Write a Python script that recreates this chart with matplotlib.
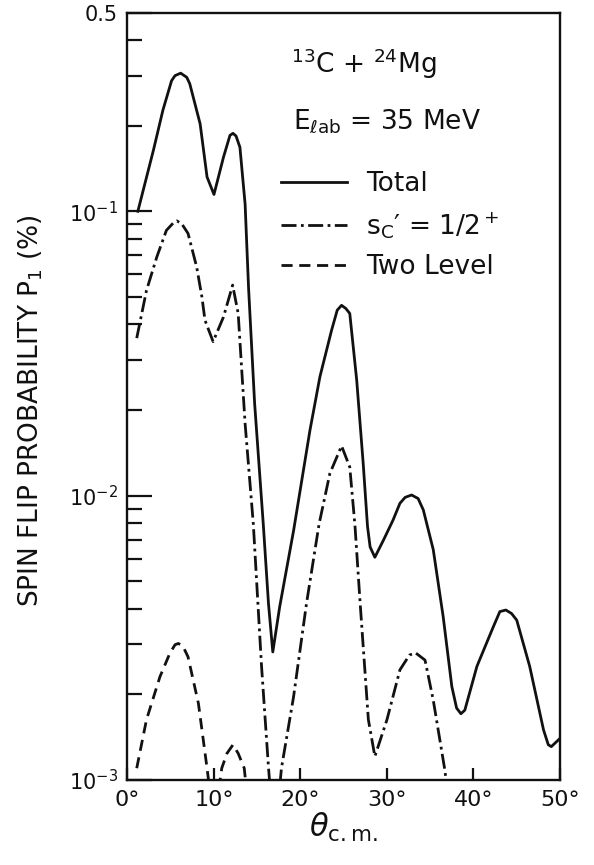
import numpy as np
import matplotlib.pyplot as plt
from matplotlib.ticker import LogLocator, NullFormatter

# angles (deg, c.m.) and spin flip probability P1 (%)
theta_total = [1.2, 3.0, 4.1, 5.1, 5.5, 6.15, 6.85, 7.2, 8.4, 9.2, 10.0, 11.1, 11.85,
               12.2, 12.55, 13.0, 13.6, 14.0, 14.7, 15.7, 16.3, 16.8, 17.6, 19.2, 21.1,
               22.25, 23.6, 24.25, 24.75, 25.25, 25.7, 26.5, 27.25, 27.75, 28.05, 28.6,
               29.6, 30.7, 31.5, 32.1, 32.85, 33.6, 34.2, 35.35, 36.5, 37.5, 38.05,
               38.55, 39.0, 40.4, 42.3, 43.05, 43.75, 44.4, 45.0, 46.5, 48.1, 48.65,
               49.0, 50.0]
p_total = [0.100, 0.164, 0.227, 0.288, 0.300, 0.306, 0.296, 0.281, 0.203, 0.132,
           0.1146, 0.155, 0.185, 0.188, 0.184, 0.168, 0.106, 0.0537, 0.0211, 0.00794,
           0.00418, 0.00282, 0.00407, 0.00752, 0.0170, 0.0262, 0.0382, 0.0449, 0.0467,
           0.0455, 0.0437, 0.0255, 0.0130, 0.0078, 0.0066, 0.00607, 0.00698, 0.0082,
           0.0094, 0.00986, 0.01005, 0.00977, 0.00891, 0.00646, 0.00375, 0.00213,
           0.00179, 0.00171, 0.00176, 0.00251, 0.00346, 0.00391, 0.00396, 0.00385,
           0.00365, 0.00251, 0.0015, 0.00133, 0.00131, 0.0014]

theta_half = [1.07, 2.2, 3.4, 4.5, 5.3, 5.7, 6.25, 7.0, 8.0, 8.6, 8.96, 9.9, 11.1,
              12.16, 12.8, 13.6, 14.55, 15.5, 16.3, 17.0, 17.8, 19.2, 20.7, 22.15,
              23.4, 24.75, 25.7, 26.3, 26.9, 27.85, 28.6, 30.0, 31.5, 32.6, 33.3, 34.4,
              35.35, 36.7, 37.0]
p_half = [0.0358, 0.0527, 0.0692, 0.0857, 0.091, 0.0925, 0.0906, 0.0836, 0.0637,
          0.0501, 0.0414, 0.0348, 0.0425, 0.0550, 0.0437, 0.0179, 0.00794, 0.00251,
          0.00111, 0.0006, 0.0011, 0.00196, 0.00418, 0.00794, 0.01197, 0.01496,
          0.0126, 0.00785, 0.00418, 0.00163, 0.00121, 0.00163, 0.00244, 0.00275,
          0.0028, 0.00264, 0.00191, 0.00108, 0.0009]

theta_two = [1.07, 2.2, 3.76, 4.9, 5.5, 5.88, 6.4, 7.0, 8.2, 9.2, 10.0, 10.9, 11.5,
             12.2, 12.8, 13.5, 13.8]
p_two = [0.0011, 0.00163, 0.00231, 0.00279, 0.00299, 0.00302, 0.00296, 0.00271,
         0.00186, 0.0011, 0.0007, 0.0011, 0.00124, 0.00133, 0.00124, 0.0011, 0.0009]

labels = ["Total", "s$_\\mathregular{C}$\u2032 = 1/2$^+$", "Two Level"]
ytick_vals = [1e-3, 1e-2, 1e-1, 0.5]
ytick_labels = ["$10^{-3}$", "$10^{-2}$", "$10^{-1}$", "0.5"]
xtick_vals = [0, 10, 20, 30, 40, 50]

plt.rcParams['font.family'] = 'DejaVu Sans'
plt.rcParams['mathtext.fontset'] = 'dejavusans'

fig = plt.figure(figsize=(5.94, 8.65), dpi=100)
ax = fig.add_axes([0.2146, 0.0983, 0.7281, 0.8872])

ink = '#111111'
lw = 2.0
l1, = ax.plot(theta_total, p_total, color=ink, lw=lw, label=labels[0],
              solid_joinstyle='round')
l2, = ax.plot(theta_half, p_half, color=ink, lw=lw, label=labels[1],
              linestyle=(0, (5.4, 1.6, 1.0, 1.6)))
l3, = ax.plot(theta_two, p_two, color=ink, lw=lw, label=labels[2],
              linestyle=(0, (4.0, 2.4)))

ax.set_yscale('log')
ax.set_xlim(0, 50)
ax.set_ylim(1e-3, 0.5)

ax.set_yticks(ytick_vals)
ax.set_yticklabels(ytick_labels)
ax.yaxis.set_minor_locator(LogLocator(base=10, subs=np.arange(2, 10)))
ax.yaxis.set_minor_formatter(NullFormatter())
ax.set_xticks(xtick_vals)
ax.set_xticklabels([f"{v}\u00b0" for v in xtick_vals])

ax.tick_params(axis='y', which='major', direction='in', length=18, width=1.6,
               labelsize=15, pad=7, colors=ink)
ax.tick_params(axis='y', which='minor', direction='in', length=11, width=1.6, colors=ink)
ax.tick_params(axis='x', which='major', direction='in', length=8.6, width=1.6,
               labelsize=16, pad=7, colors=ink)
for s in ax.spines.values():
    s.set_linewidth(1.7)
    s.set_color(ink)

ax.set_ylabel("SPIN FLIP PROBABILITY P$_1$ (%)", fontsize=19, color=ink)
ax.yaxis.set_label_coords(-0.19, 0.482)
ax.set_xlabel(r"$\theta_{\mathregular{c.m.}}$", fontsize=22, color=ink)
ax.xaxis.set_label_coords(0.5, -0.040)

ax.text(0.378, 0.9216, "$^{13}$C + $^{24}$Mg", transform=ax.transAxes,
        fontsize=19, va='baseline', color=ink)
ax.text(0.382, 0.8495, "E$_{\\ell\\mathregular{ab}}$ = 35 MeV", transform=ax.transAxes,
        fontsize=19, va='baseline', color=ink)

ax.legend(handles=[l1, l2, l3], loc='upper left', bbox_to_anchor=(0.355, 0.7935),
          frameon=False, fontsize=19, handlelength=2.5, handletextpad=0.72,
          labelspacing=0.5, borderpad=0, borderaxespad=0, labelcolor=ink)

fig.savefig('out.png', dpi=100)
